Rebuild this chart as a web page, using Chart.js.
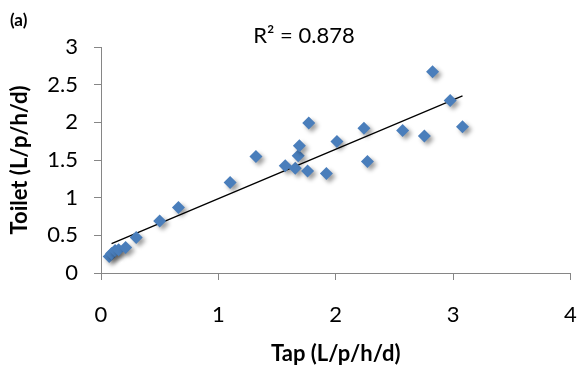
<!DOCTYPE html>
<html>
<head>
<meta charset="utf-8">
<script src="https://cdn.jsdelivr.net/npm/chart.js@4/dist/chart.umd.min.js"></script>
<style>
  html, body { margin: 0; padding: 0; background: #fff; }
  #wrap { width: 577px; height: 369px; position: relative; }
</style>
</head>
<body>
<div id="wrap"><canvas id="c" width="577" height="369"></canvas></div>
<script>
// ---- data ----
const tapValues    = [0.07, 0.09, 0.12, 0.15, 0.21, 0.30, 0.50, 0.66, 1.10, 1.32, 1.57, 1.655, 1.68, 1.69, 1.76, 1.77, 1.92, 2.01, 2.24, 2.27, 2.57, 2.755, 2.825, 2.975, 3.08];
const toiletValues = [0.22, 0.26, 0.30, 0.31, 0.34, 0.47, 0.69, 0.87, 1.20, 1.545, 1.425, 1.39, 1.555, 1.69, 1.355, 1.99, 1.32, 1.745, 1.92, 1.48, 1.89, 1.82, 2.67, 2.29, 1.94];
const trendX = [0.09, 3.08];
const trendY = [0.39, 2.35];
const xTicks = [0, 1, 2, 3, 4];
const yTicks = [0, 0.5, 1, 1.5, 2, 2.5, 3];
const panelLabel = "(a)";
const r2Label = "R² = 0.878";
const xTitle = "Tap (L/p/h/d)";
const yTitle = "Toilet (L/p/h/d)";

const FONT = "Lato, 'Open Sans', sans-serif";
const axisColor = "#868686";

const points = tapValues.map((x, i) => ({ x: x, y: toiletValues[i] }));
const trend = trendX.map((x, i) => ({ x: x, y: trendY[i] }));

const shadowPlugin = {
  id: 'shadow',
  beforeDatasetDraw(chart, args) {
    if (args.index === 1) {
      const ctx = chart.ctx;
      ctx.save();
      ctx.shadowColor = 'rgba(0,0,0,0.38)';
      ctx.shadowBlur = 4;
      ctx.shadowOffsetX = 3;
      ctx.shadowOffsetY = 3;
    }
  },
  afterDatasetDraw(chart, args) {
    if (args.index === 1) chart.ctx.restore();
  }
};

const textPlugin = {
  id: 'texts',
  afterDraw(chart) {
    const ctx = chart.ctx;
    ctx.save();
    ctx.fillStyle = '#000';
    ctx.textBaseline = 'middle';
    ctx.textAlign = 'left';
    ctx.font = "bold 17px " + FONT;
    ctx.fillText(panelLabel, 10, 21);
    ctx.textAlign = 'center';
    ctx.font = "22px " + FONT;
    ctx.fillText(r2Label, 304, 36);
    ctx.restore();
  }
};

new Chart(document.getElementById('c'), {
  type: 'scatter',
  data: {
    datasets: [
      {
        type: 'line',
        label: 'trend',
        data: trend,
        borderColor: '#000',
        borderWidth: 1.3,
        pointRadius: 0,
        fill: false,
        order: 2
      },
      {
        label: 'Toilet vs Tap',
        data: points,
        pointStyle: 'rectRot',
        pointRadius: 6.5,
        pointHoverRadius: 6.5,
        backgroundColor: '#4a7ebb',
        borderColor: '#4a7ebb',
        borderWidth: 0,
        order: 1
      }
    ]
  },
  options: {
    responsive: false,
    animation: false,
    events: [],
    layout: { padding: { top: 47, right: 5, left: 0, bottom: 0 } },
    plugins: {
      legend: { display: false },
      tooltip: { enabled: false }
    },
    scales: {
      x: {
        type: 'linear',
        min: 0, max: 4,
        afterBuildTicks(scale) { scale.ticks = xTicks.map(v => ({ value: v })); },
        afterFit(scale) { scale.height = 96; scale.paddingLeft = 0; scale.paddingRight = 0; },
        grid: { drawOnChartArea: false, drawTicks: true, tickLength: 7, color: axisColor },
        border: { color: axisColor, width: 1 },
        ticks: { color: '#000', font: { family: FONT, size: 22 }, padding: 22, maxRotation: 0, callback: v => String(v) },
        title: { display: true, text: xTitle, color: '#000', font: { family: FONT, size: 22, weight: 'bold' }, padding: { top: 0, bottom: 2 } }
      },
      y: {
        type: 'linear',
        min: 0, max: 3,
        afterBuildTicks(scale) { scale.ticks = yTicks.map(v => ({ value: v })); },
        afterFit(scale) { scale.width = 101; scale.paddingTop = 0; scale.paddingBottom = 0; },
        grid: { drawOnChartArea: false, drawTicks: true, tickLength: 7, color: axisColor },
        border: { color: axisColor, width: 1 },
        ticks: { color: '#000', font: { family: FONT, size: 22 }, padding: 16, callback: v => String(v) },
        title: { display: true, text: yTitle, color: '#000', font: { family: FONT, size: 22, weight: 'bold' }, padding: { top: 7, bottom: 0 } }
      }
    }
  },
  plugins: [shadowPlugin, textPlugin]
});
</script>
</body>
</html>
